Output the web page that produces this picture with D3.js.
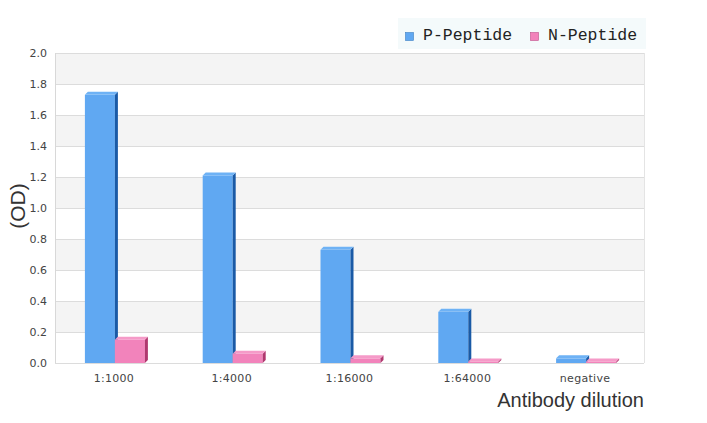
<!DOCTYPE html>
<html><head><meta charset="utf-8">
<script src="https://cdn.jsdelivr.net/npm/d3@7"></script>
<style>body{margin:0;background:#fff}svg{display:block}</style>
</head><body>
<script>
const categories = ["1:1000","1:4000","1:16000","1:64000","negative"];
const pPeptide = [1.73, 1.21, 0.73, 0.33, 0.03];
const nPeptide = [0.15, 0.06, 0.03, 0.01, 0.01];
const yTicks = [0,0.2,0.4,0.6,0.8,1.0,1.2,1.4,1.6,1.8,2.0];
const seriesNames = ["P-Peptide","N-Peptide"];

const W=707,H=423;
const svg=d3.select("body").append("svg").attr("width",W).attr("height",H);
const L=55,R=644,T=53,B=363;
const x=d3.scaleBand().domain(categories).range([L,R]);
const y=d3.scaleLinear().domain([0,2]).range([B,T]);

// bands
for(let i=0;i<yTicks.length-1;i++){
  if((yTicks.length-2-i)%2===0){
    svg.append("rect").attr("x",L).attr("width",R-L).attr("y",y(yTicks[i+1])).attr("height",y(yTicks[i])-y(yTicks[i+1])).attr("fill","#f4f4f4");
  }
}
svg.append("g").selectAll("line").data(yTicks).join("line")
  .attr("x1",L).attr("x2",R).attr("y1",d=>y(d)+0.5).attr("y2",d=>y(d)+0.5)
  .attr("stroke","#dcdcdc");
svg.append("line").attr("x1",L+0.5).attr("x2",L+0.5).attr("y1",T).attr("y2",B).attr("stroke","#d8d8d8");
svg.append("line").attr("x1",R+0.5).attr("x2",R+0.5).attr("y1",T).attr("y2",B).attr("stroke","#e4e4e4");

svg.append("g").selectAll("text").data(yTicks).join("text")
  .attr("x",47).attr("y",d=>y(d)+4).attr("text-anchor","end")
  .attr("font-family","DejaVu Sans").attr("font-size",11).attr("fill","#444")
  .text(d=>d.toFixed(1));
svg.append("g").selectAll("text").data(categories).join("text")
  .attr("x",d=>x(d)+x.bandwidth()/2).attr("y",382).attr("text-anchor","middle")
  .attr("font-family","DejaVu Sans").attr("font-size",11).attr("fill","#444")
  .attr("letter-spacing",0.3)
  .text(d=>d);

const bw=30, dep=3;
const series=[
  {vals:pPeptide, off:-29, front:"#60a8f2", side:"#1a5aa6", top:"#6eb2f5"},
  {vals:nPeptide, off:1, front:"#f283bb", side:"#b0386f", top:"#f59ac8"}
];
series.forEach(s=>{
  const g=svg.append("g");
  categories.forEach((c,i)=>{
    const cx=x(c)+x.bandwidth()/2+s.off;
    const yt=y(s.vals[i]);
    g.append("rect").attr("x",cx).attr("y",yt).attr("width",bw).attr("height",B-yt).attr("fill",s.front);
    g.append("path").attr("d",`M${cx+bw},${yt} L${cx+bw+dep},${yt-dep} L${cx+bw+dep},${B-dep} L${cx+bw},${B} Z`).attr("fill",s.side);
    g.append("path").attr("d",`M${cx},${yt} L${cx+dep},${yt-dep} L${cx+bw+dep},${yt-dep} L${cx+bw},${yt} Z`).attr("fill",s.top);
  });
});

svg.append("text").attr("transform","translate(25,206) rotate(-90)").attr("text-anchor","middle")
  .attr("font-family","Liberation Sans").attr("font-size",21).attr("fill","#333").text("(OD)");
svg.append("text").attr("x",644).attr("y",407).attr("text-anchor","end")
  .attr("font-family","Liberation Sans").attr("font-size",20).attr("fill","#333").text("Antibody dilution");

// legend
svg.append("rect").attr("x",398).attr("y",18).attr("width",248).attr("height",31).attr("fill","#f4fafb");
const lg=[{x:405,c:"#60a8f2",s:"#3d7fc4"},{x:530,c:"#f283bb",s:"#c0508a"}];
lg.forEach((l,i)=>{
  svg.append("rect").attr("x",l.x+0.5).attr("y",32.5).attr("width",8).attr("height",8).attr("fill",l.c).attr("stroke",l.s).attr("stroke-width",0.6);
  svg.append("text").attr("x",l.x+18).attr("y",40).attr("font-family","Liberation Mono").attr("font-size",16.5).attr("fill","#222").text(seriesNames[i]);
});
</script>
</body></html>
